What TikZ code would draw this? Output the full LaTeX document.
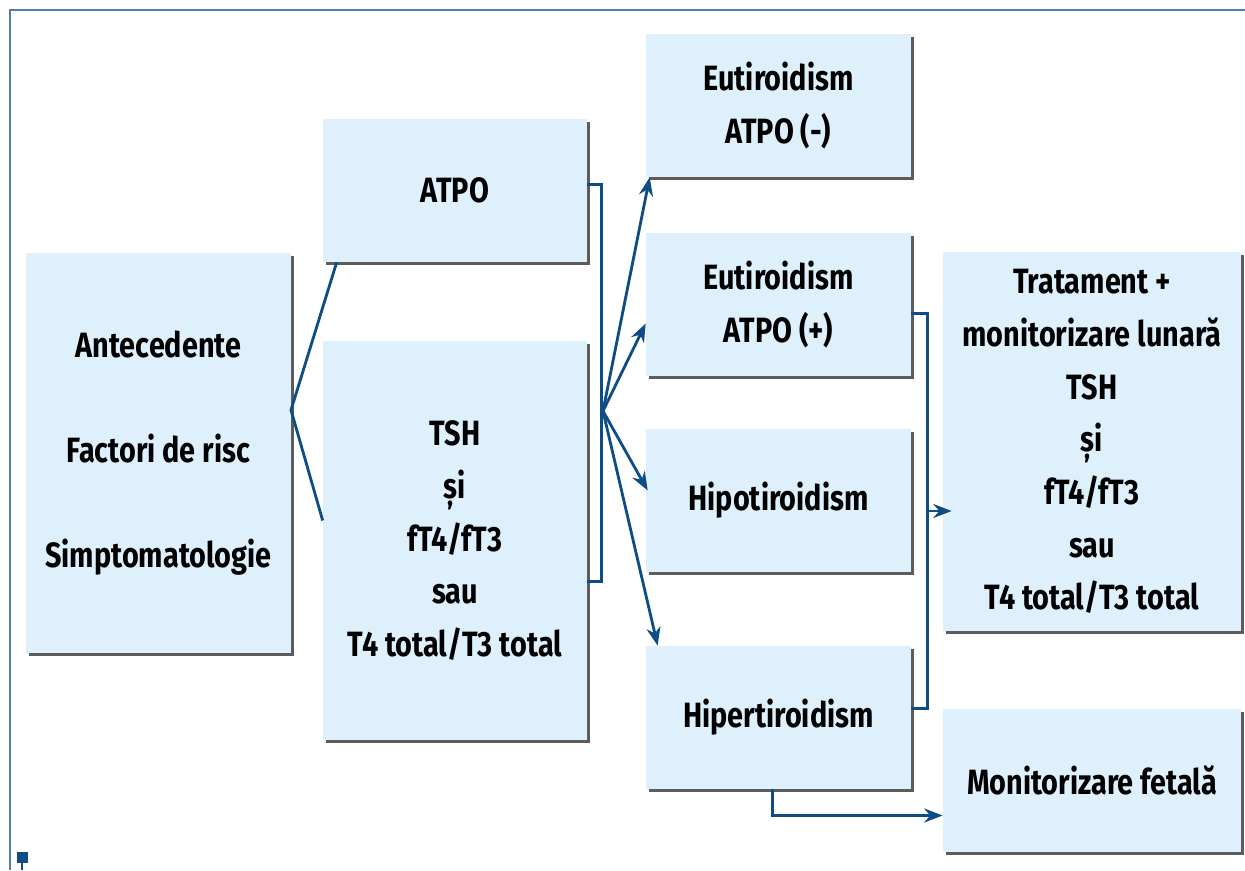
\documentclass[tikz,border=0pt]{standalone}
\usepackage{fontspec}
\setmainfont{Fira Sans}[FakeStretch=0.82]
\usetikzlibrary{arrows.meta,shadows,calc}
\definecolor{cutie}{HTML}{DDF0FB}
\definecolor{linie}{HTML}{0D4C85}
\definecolor{rama}{HTML}{4F7FAB}

\begin{document}
\begin{tikzpicture}[x=0.02cm,y=-0.02cm,
    caseta/.style={fill=cutie, align=center, inner sep=0pt,
        font=\bfseries\fontsize{20}{30}\selectfont,
        minimum width=5.3cm, minimum height=2.86cm,
        drop shadow={shadow xshift=1.6pt, shadow yshift=-1.6pt, fill=black!75, opacity=.85}},
    legatura/.style={draw=linie, line width=1.6pt},
    sageata/.style={legatura, -{Stealth[length=10.5pt,width=8pt]}}]
    \useasboundingbox (0,0) rectangle (1245,870);
    % Rama
    \draw[rama, line width=1.2pt] (1245,10) -- (10,10) -- (10,870);
    \fill[linie] (17,852) rectangle (28,863);
    \draw[linie, line width=1.2pt] (22,863) -- (22,870);
    % Casete
    \node[caseta, minimum height=8cm] (ante) at (158.5,453)
        {Antecedente\\[30pt]Factori de risc\\[30pt]Simptomatologie};
    \node[caseta, minimum width=5.28cm] (atpo) at (455,190.5) {ATPO};
    \node[caseta, minimum width=5.28cm, minimum height=7.98cm] (tsh) at (455,540.5)
        {TSH\\și\\fT4/fT3\\sau\\T4 total/T3 total};
    \node[caseta] (eutneg) at (778.5,105.5) {Eutiroidism\\ATPO (-)};
    \node[caseta] (eutpos) at (778.5,304.5) {Eutiroidism\\ATPO (+)};
    \node[caseta] (hipo) at (778.5,500.5) {Hipotiroidism};
    \node[caseta] (hiper) at (778.5,717.5) {Hipertiroidism};
    \node[caseta, minimum width=5.96cm, minimum height=7.58cm] (trat) at (1092,441.5)
        {Tratament +\\monitorizare lunară\\TSH\\și\\fT4/fT3\\sau\\T4 total/T3 total};
    \node[caseta, minimum width=5.96cm] (fetal) at (1092,780.5) {Monitorizare fetală};
    % Legaturi
    \coordinate (fork) at (291,410);
    \draw[legatura] ($(atpo.south west)+(14,0)$) -- (fork) -- ($(tsh.west)+(0,-20)$);
    \draw[legatura] ($(atpo.east)+(0,-6)$) -- ++(14,0) |- ($(tsh.east)+(0,41)$);
    \coordinate (fan) at (603,411);
    \draw[sageata] (fan) -- ($(eutneg.south west)+(4,0)$);
    \draw[sageata] (fan) -- ($(eutpos.west)+(0,19)$);
    \draw[sageata] (fan) -- ($(hipo.west)+(2,-10)$);
    \draw[sageata] (fan) -- ($(hiper.north west)+(12,0)$);
    \draw[legatura] ($(eutpos.east)+(0,9)$) -- ++(16,0) |- ($(hiper.east)+(0,-9)$);
    \coordinate (b2) at (927,511);
    \draw[sageata] (b2) -- ($(b2 -| trat.west)+(9,0)$);
    \draw[sageata] ($(hiper.south)+(-6,0)$) |- ($(fetal.west)+(0,35)$);
\end{tikzpicture}
\end{document}
